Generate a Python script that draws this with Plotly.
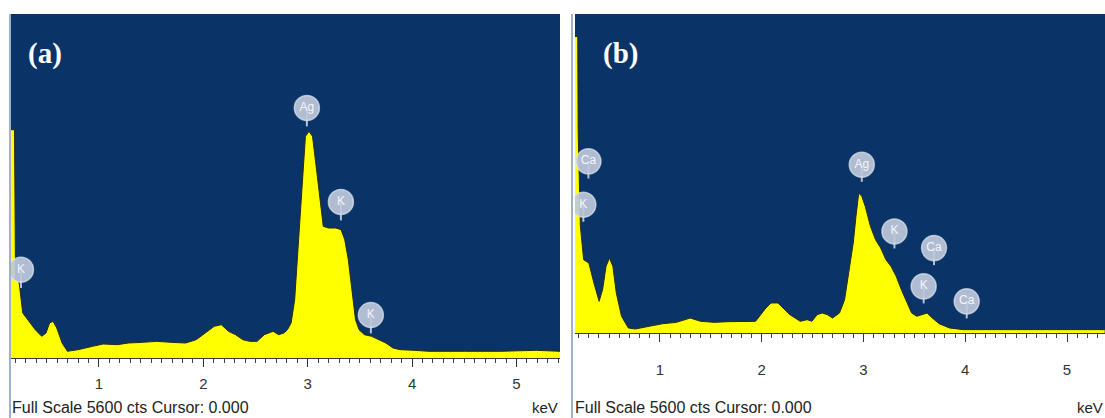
import plotly.graph_objects as go

# ---------------- Data: panel (a) ----------------
energy_a = [0.148, 0.167, 0.191, 0.201, 0.236, 0.270, 0.321, 0.390, 0.452, 0.493, 0.527,
            0.561, 0.596, 0.647, 0.698, 0.801, 0.938, 1.041, 1.178, 1.281, 1.418, 1.555,
            1.692, 1.829, 1.932, 2.018, 2.104, 2.172, 2.241, 2.309, 2.378, 2.446, 2.515,
            2.584, 2.635, 2.669, 2.721, 2.772, 2.806, 2.841, 2.875, 2.892, 2.926, 2.954,
            2.978, 3.012, 3.046, 3.081, 3.115, 3.149, 3.200, 3.269, 3.320, 3.355, 3.389,
            3.423, 3.458, 3.492, 3.543, 3.612, 3.680, 3.749, 3.817, 3.886, 4.023, 4.160,
            4.503, 4.846, 5.189, 5.420]
counts_a = [3717, 3717, 3717, 1275, 1221, 733, 624, 461, 353, 407, 570,
            597, 488, 244, 109, 136, 190, 228, 217, 244, 255, 271,
            255, 244, 298, 407, 515, 543, 434, 380, 298, 271, 271,
            380, 407, 434, 380, 407, 461, 570, 950, 1384, 2306, 3120,
            3608, 3690, 3608, 3120, 2577, 2143, 2116, 2116, 2089, 1926, 1601,
            1112, 624, 461, 380, 353, 298, 244, 163, 136, 125, 109,
            109, 109, 125, 109]
label_a_text = ["K", "Ag", "K", "K"]
label_a_energy = [0.253, 2.992, 3.318, 3.605]
label_a_height = [1438, 4070, 2540, 700]

# ---------------- Data: panel (b) ----------------
energy_b = [0.160, 0.192, 0.196, 0.205, 0.218, 0.250, 0.301, 0.351, 0.402, 0.436, 0.470,
            0.503, 0.537, 0.571, 0.622, 0.689, 0.757, 0.892, 1.027, 1.162, 1.297, 1.399,
            1.534, 1.669, 1.804, 1.939, 1.990, 2.041, 2.091, 2.159, 2.209, 2.277, 2.378,
            2.446, 2.493, 2.544, 2.595, 2.645, 2.696, 2.764, 2.814, 2.865, 2.899, 2.926,
            2.953, 2.983, 3.017, 3.068, 3.118, 3.169, 3.220, 3.270, 3.321, 3.372, 3.422,
            3.473, 3.524, 3.574, 3.625, 3.676, 3.743, 3.845, 3.980, 4.250, 4.588, 4.926,
            5.370]
counts_b = [5207, 5207, 3569, 2925, 1872, 1287, 1229, 878, 556, 761, 1170,
            1316, 1170, 702, 293, 88, 70, 117, 164, 187, 263, 205,
            187, 199, 205, 205, 322, 439, 527, 527, 439, 322, 205,
            234, 205, 322, 351, 322, 263, 351, 585, 1170, 1580, 2048,
            2457, 2399, 2223, 1872, 1638, 1492, 1287, 1170, 995, 761, 556,
            351, 293, 322, 351, 263, 164, 88, 59, 59, 59, 59,
            59]
label_b_text = ["Ca", "K", "Ag", "K", "Ca", "K", "Ca"]
label_b_energy = [0.297, 0.247, 2.983, 3.304, 3.693, 3.591, 4.014]
label_b_height = [3013, 2252, 2954, 1784, 1492, 819, 556]

tick_vals = [1, 2, 3, 4, 5]
tick_text = ["1", "2", "3", "4", "5"]
footer_text = "Full Scale 5600 cts Cursor: 0.000"
unit_text = "keV"
panel_titles = ["(a)", "(b)"]
full_scale = 5600

# ---------------- Styling ----------------
W, H = 1105, 418
NAVY = "#0a3467"
YELLOW = "#ffff00"
LABEL_FILL = "rgba(190,200,218,0.92)"
STEM = 300  # stem length (counts)


def px_x(p):
    return p / W


def px_y(p):
    return 1 - p / H


fig = go.Figure()

panels = [
    dict(e=energy_a, c=counts_a, lt=label_a_text, le=label_a_energy, lh=label_a_height,
         xa="x", ya="y"),
    dict(e=energy_b, c=counts_b, lt=label_b_text, le=label_b_energy, lh=label_b_height,
         xa="x2", ya="y2"),
]

for p in panels:
    fig.add_trace(go.Scatter(
        x=p["e"], y=p["c"], mode="lines", fill="tozeroy",
        fillcolor=YELLOW, line=dict(color="#2a2a10", width=1),
        xaxis=p["xa"], yaxis=p["ya"], hoverinfo="skip", showlegend=False))
    # stems
    sx, sy = [], []
    for e, h in zip(p["le"], p["lh"]):
        sx += [e, e, None]
        sy += [h, h - STEM, None]
    fig.add_trace(go.Scatter(
        x=sx, y=sy, mode="lines", line=dict(color="rgba(200,210,225,0.9)", width=2),
        xaxis=p["xa"], yaxis=p["ya"], hoverinfo="skip", showlegend=False))
    fig.add_trace(go.Scatter(
        x=p["le"], y=p["lh"], mode="markers+text", text=p["lt"],
        textposition="middle center",
        textfont=dict(color="#f4f6fa", size=12, family="Liberation Sans, Arial"),
        marker=dict(size=25, color=LABEL_FILL,
                    line=dict(color="rgba(225,232,242,0.7)", width=1.5)),
        xaxis=p["xa"], yaxis=p["ya"], hoverinfo="skip", showlegend=False))

axis_common = dict(
    tickvals=tick_vals, ticktext=tick_text, ticks="outside", ticklen=8, tickwidth=1,
    tickcolor="#333333", showline=True, linecolor="#3a3a3a", linewidth=1,
    showgrid=False, zeroline=False,
    tickfont=dict(family="Liberation Sans, Arial", size=15, color="#333333"),
    minor=dict(dtick=0.1, tick0=0, ticks="outside", ticklen=4, tickcolor="#444444",
               showgrid=False),
)
yaxis_common = dict(range=[0, full_scale], showticklabels=False, showgrid=False,
                    zeroline=False, ticks="", showline=False)

fig.update_layout(
    width=W, height=H, autosize=False,
    margin=dict(l=0, r=0, t=0, b=0),
    paper_bgcolor="white", plot_bgcolor=NAVY,
    xaxis=dict(domain=[px_x(10), px_x(560)], range=[0.148, 5.417], anchor="y",
               ticklabelstandoff=4, **axis_common),
    yaxis=dict(domain=[px_y(358), px_y(14)], anchor="x", **yaxis_common),
    xaxis2=dict(domain=[px_x(575), 1.0], range=[0.165, 5.373], anchor="y2",
                ticklabelstandoff=15, **axis_common),
    yaxis2=dict(domain=[px_y(333), px_y(14)], anchor="x2", **yaxis_common),
)

# panel titles
for xp, t in zip([px_x(26), px_x(601)], panel_titles):
    fig.add_annotation(x=xp, y=px_y(53), xref="paper", yref="paper", text="<b>%s</b>" % t,
                       showarrow=False, xanchor="left", yanchor="middle",
                       font=dict(family="Liberation Serif, Times New Roman", size=29,
                                 color="white"))

# footer texts
for xp in [px_x(10), px_x(573)]:
    fig.add_annotation(x=xp, y=px_y(407), xref="paper", yref="paper", text=footer_text,
                       showarrow=False, xanchor="left", yanchor="middle",
                       font=dict(family="Liberation Sans, Arial", size=16, color="#222222"))
for xp in [px_x(560), px_x(1105)]:
    fig.add_annotation(x=xp, y=px_y(407), xref="paper", yref="paper", text=unit_text,
                       showarrow=False, xanchor="right", yanchor="middle",
                       font=dict(family="Liberation Sans, Arial", size=15, color="#222222"))

# window frame lines
for xp in [px_x(10), px_x(572)]:
    fig.add_shape(type="line", xref="paper", yref="paper", x0=xp, x1=xp,
                  y0=0, y1=px_y(14), line=dict(color="#9fb2cc", width=2), layer="above")

fig.write_html("out.html", config={"displayModeBar": False},
               post_script="document.body.style.margin='0';document.body.style.padding='0';")
